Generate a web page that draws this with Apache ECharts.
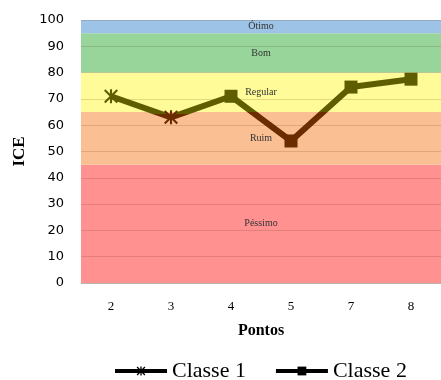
<!DOCTYPE html>
<html>
<head>
<meta charset="utf-8">
<script src="https://cdn.jsdelivr.net/npm/echarts@6/dist/echarts.min.js"></script>
<style>
  html, body { margin: 0; padding: 0; background: #fff; }
  #chart { width: 441px; height: 380px; }
</style>
</head>
<body>
<div id="chart"></div>
<script>
// Sampling points and ICE values per class
const pontos = ['2', '3', '4', '5', '7', '8'];
const classe1 = [71, 63, null, null, null, null];
const classe2 = [null, null, 71, 54, 74.5, 77.5];

// Quality bands of the ICE scale
const faixaNomes = ['Péssimo', 'Ruim', 'Regular', 'Bom', 'Ótimo'];
const faixaInicio = [0, 45, 65, 80, 95];
const faixaFim = [45, 65, 80, 95, 100];
const faixaCores = ['#ff9191', '#fbbf94', '#fffb98', '#98d59a', '#9dc3e6'];

const yTicks = [0, 10, 20, 30, 40, 50, 60, 70, 80, 90, 100];

const OLIVA = '#5e5e00';
const MARROM = '#6b2c00';
const LIMITE_RUIM = 65;

// Asterisk marker: vertical bar crossed by an X
const asterisco = 'path://M8.5 0H11.5V20H8.5Z M0 2.1L2.1 0L20 17.9L17.9 20Z M17.9 0L20 2.1L2.1 20L0 17.9Z';

// Classe 1 line continues to the first Classe 2 point (no marker there)
const firstC2 = classe2.findIndex(v => v !== null);
const serieC1 = classe1.map((v, i) => (i === firstC2 ? classe2[i] : v));

// Line colour: brown where the value falls in the "Ruim" band, olive above it.
// The gradient runs over the line's own vertical extent (max value at top).
function gradiente(valores) {
  const vs = valores.filter(v => v !== null);
  const hi = Math.max(...vs);
  const lo = Math.min(...vs);
  if (lo >= LIMITE_RUIM) return OLIVA;
  if (hi < LIMITE_RUIM) return MARROM;
  const corte = (hi - LIMITE_RUIM) / (hi - lo);
  return new echarts.graphic.LinearGradient(0, 0, 0, 1, [
    { offset: 0, color: OLIVA },
    { offset: corte, color: OLIVA },
    { offset: corte, color: MARROM },
    { offset: 1, color: MARROM }
  ]);
}
const corPonto = v => (v < LIMITE_RUIM ? MARROM : OLIVA);

const dadosClasse1 = serieC1.map((v, i) => {
  if (v === null) return null;
  if (i === firstC2) return { value: v, symbol: 'none' };
  return { value: v, itemStyle: { color: corPonto(v) } };
});
const dadosClasse2 = classe2.map(v => v === null ? null : {
  value: v,
  itemStyle: { color: corPonto(v) }
});

const bandas = faixaNomes.map((nome, i) => [
  { name: nome, yAxis: faixaInicio[i], itemStyle: { color: faixaCores[i] } },
  { yAxis: faixaFim[i] }
]);

const chart = echarts.init(document.getElementById('chart'), null, { renderer: 'canvas' });

chart.setOption({
  animation: false,
  backgroundColor: '#fff',
  grid: { left: 81, top: 20, width: 366, height: 263 },
  xAxis: {
    type: 'category',
    data: pontos,
    boundaryGap: true,
    axisLine: { show: true, lineStyle: { color: '#d0d0d0', width: 1 } },
    axisTick: { show: false },
    axisLabel: {
      margin: 17,
      color: '#000',
      fontFamily: 'Liberation Serif',
      fontSize: 13
    },
    name: 'Pontos',
    nameLocation: 'middle',
    nameGap: 40,
    nameTextStyle: {
      color: '#000',
      fontFamily: 'Liberation Serif',
      fontWeight: 'bold',
      fontSize: 16
    }
  },
  yAxis: {
    type: 'value',
    min: yTicks[0],
    max: yTicks[yTicks.length - 1],
    interval: yTicks[1] - yTicks[0],
    z: 2,
    axisLine: { show: false },
    axisTick: { show: false },
    splitLine: { show: true, lineStyle: { color: 'rgba(90,40,0,0.16)', width: 1 } },
    axisLabel: {
      margin: 17,
      color: '#000',
      fontFamily: 'DejaVu Sans',
      fontSize: 13
    },
    name: 'ICE',
    nameLocation: 'middle',
    nameRotate: 90,
    nameGap: 50,
    nameTextStyle: {
      color: '#000',
      fontFamily: 'Liberation Serif',
      fontWeight: 'bold',
      fontSize: 17
    }
  },
  legend: {
    left: 113,
    top: 360,
    padding: 0,
    itemWidth: 52,
    itemHeight: 11,
    itemGap: 28,
    textStyle: {
      color: '#000',
      fontFamily: 'Liberation Serif',
      fontSize: 22
    },
    lineStyle: { width: 4 },
    data: [
      { name: 'Classe 1', itemStyle: { color: '#000' }, lineStyle: { color: '#000' } },
      { name: 'Classe 2', itemStyle: { color: '#000' }, lineStyle: { color: '#000' } }
    ]
  },
  series: [
    {
      name: 'Classe 1',
      type: 'line',
      z: 3,
      data: dadosClasse1,
      connectNulls: false,
      symbol: asterisco,
      symbolSize: 14,
      lineStyle: { color: gradiente(serieC1), width: 6 },
      itemStyle: { color: OLIVA },
      markArea: {
        silent: true,
        label: {
          show: true,
          position: 'inside',
          color: '#333',
          fontFamily: 'Liberation Serif',
          fontSize: 10
        },
        data: bandas
      }
    },
    {
      name: 'Classe 2',
      type: 'line',
      z: 4,
      data: dadosClasse2,
      symbol: 'rect',
      symbolSize: 13,
      lineStyle: { color: gradiente(classe2), width: 6 },
      itemStyle: { color: OLIVA }
    }
  ]
});
</script>
</body>
</html>
